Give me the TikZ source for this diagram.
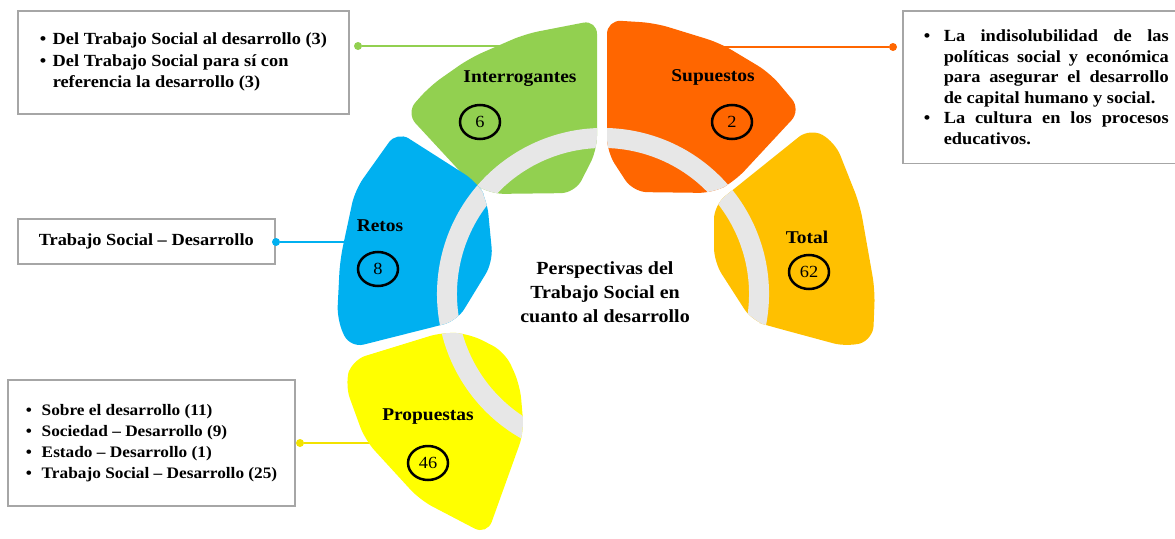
\documentclass[tikz,border=0pt]{standalone}
\usepackage{fontspec}
\setmainfont{Liberation Serif}[FakeStretch=1.08]
\usetikzlibrary{shapes.geometric}

\definecolor{verde}{HTML}{92D050}
\definecolor{naranja}{HTML}{FF6600}
\definecolor{ambar}{HTML}{FFC000}
\definecolor{celeste}{HTML}{00B0F0}
\definecolor{amarillo}{HTML}{FFFF00}
\definecolor{amarilloLinea}{HTML}{F2E200}
\definecolor{banda}{HTML}{E7E7E7}
\definecolor{borde}{HTML}{A6A6A6}

\newcommand{\vineta}[1][13pt]{\makebox[#1][l]{\textbullet}}

\tikzset{
    caja/.style={draw=borde, line width=1.5pt, fill=white, align=left, inner ysep=0pt,
        font=\fontsize{17}{21.5}\selectfont\bfseries},
    punto/.style={circle, fill=#1, inner sep=0pt, minimum size=8pt},
    enlace/.style={line width=1.5pt, draw=#1},
    sector/.style={fill=#1, rounded corners=14pt,
        path picture={\draw [banda, line width=20pt] (eje) ++(-15:156) arc[start angle=-15, end angle=250, radius=156];}},
    titulo/.style={font=\fontsize{18}{22}\selectfont\bfseries},
    cifra/.style={ellipse, draw, line width=2.5pt, minimum width=40pt, minimum height=34pt, inner sep=0pt,
        font=\fontsize{17}{17}\selectfont},
}

\begin{document}
\begin{tikzpicture}[x=1pt, y=1pt]
    \useasboundingbox (0,0) rectangle (1175,-538);
    \coordinate (eje) at (603,-294);

    % Boxes with the lists
    \node [caja, anchor=north west, minimum height=103pt, inner xsep=22pt] (listaInterrogantes) at (17,-10)
        {\vineta Del Trabajo Social al desarrollo (3)\\
         \vineta Del Trabajo Social para sí con\\
         \hspace{13pt}referencia la desarrollo (3)};
    \node [caja, anchor=north west, inner xsep=21pt, inner ysep=19pt, text width=245pt, align=justify,
        font=\fontsize{17}{20.5}\selectfont\bfseries] (listaSupuestos) at (902,-10)
        {\hangindent=20pt\hangafter=1\noindent\vineta[20pt]La indisolubilidad de las políticas social y económica para asegurar el desarrollo de capital humano y social.\par
         \hangindent=20pt\hangafter=1\noindent\vineta[20pt]La cultura en los procesos educativos.\par\vspace{19pt}};
    \node [caja, anchor=north west, minimum height=45pt, inner xsep=21pt] (listaRetos) at (17,-218)
        {Trabajo Social – Desarrollo};
    \node [caja, anchor=north west, minimum height=126pt, inner xsep=18pt,
        font=\fontsize{16}{21}\selectfont\bfseries] (listaPropuestas) at (7,-379)
        {\vineta[16pt]Sobre el desarrollo (11)\\
         \vineta[16pt]Sociedad – Desarrollo (9)\\
         \vineta[16pt]Estado – Desarrollo (1)\\
         \vineta[16pt]Trabajo Social – Desarrollo (25)};

    % Dots and connectors (under the sectors)
    \foreach \nom/\col/\px/\py/\fx in {
    Interrogantes/verde/358/46/500,
    Supuestos/naranja/893/47/700,
    Retos/celeste/276/242/360,
    Propuestas/amarilloLinea/300/443/380} {
        \node [punto=\col] (punto\nom) at (\px,-\py) {};
        \coordinate (fin\nom) at (\fx,-\py);
        \draw [enlace=\col] (punto\nom) -- (fin\nom);
    }

    % Sectors of the ring, the grey band is clipped to each one
    \path [sector=verde] (597,-80) -- (597,-150) -- (575,-193) -- (490,-194) -- (468,-180)
        -- (406,-113) -- (430,-86) -- (470,-58) -- (525,-34) -- (597,-20) -- cycle;
    \path [sector=naranja] (607,-80) -- (607,-20) -- (655,-23) -- (720,-43) -- (770,-73)
        -- (801,-110) -- (735,-181) -- (713,-193) -- (633,-192) -- (607,-152) -- cycle;
    \path [sector=ambar] (714,-230) -- (714,-205) -- (810,-128) -- (835,-142) -- (860,-205)
        -- (875,-290) -- (873,-340) -- (847,-347) -- (773,-327) -- (752,-321) -- (714,-262) -- cycle;
    \path [sector=celeste] (340,-260) -- (355,-190) -- (397,-131) -- (477,-182) -- (487,-200)
        -- (493,-262) -- (457,-321) -- (350,-348) -- (337,-320) -- cycle;
    \path [sector=amarillo] (345,-385) -- (352,-360) -- (443,-332) -- (470,-334) -- (505,-352)
        -- (520,-385) -- (524,-432) -- (487,-535) -- (420,-500) -- (365,-440) -- cycle;

    % Titles and counts
    \foreach \nom/\tx/\ty/\cx/\cy/\n in {
    Interrogantes/520/79/480/122/6,
    Supuestos/713/77/732/122/2,
    Retos/380/226/378/269/8,
    Total/807/237/809/272/62,
    Propuestas/428/417/428/463/46} {
        \node [titulo] (titulo\nom) at (\tx,-\ty) {\nom};
        \node [cifra] (cifra\nom) at (\cx,-\cy) {\n};
    }

    \node [align=center, font=\fontsize{18.5}{24}\selectfont\bfseries] (centro) at (605,-292)
        {Perspectivas del\\Trabajo Social en\\cuanto al desarrollo};
\end{tikzpicture}
\end{document}
